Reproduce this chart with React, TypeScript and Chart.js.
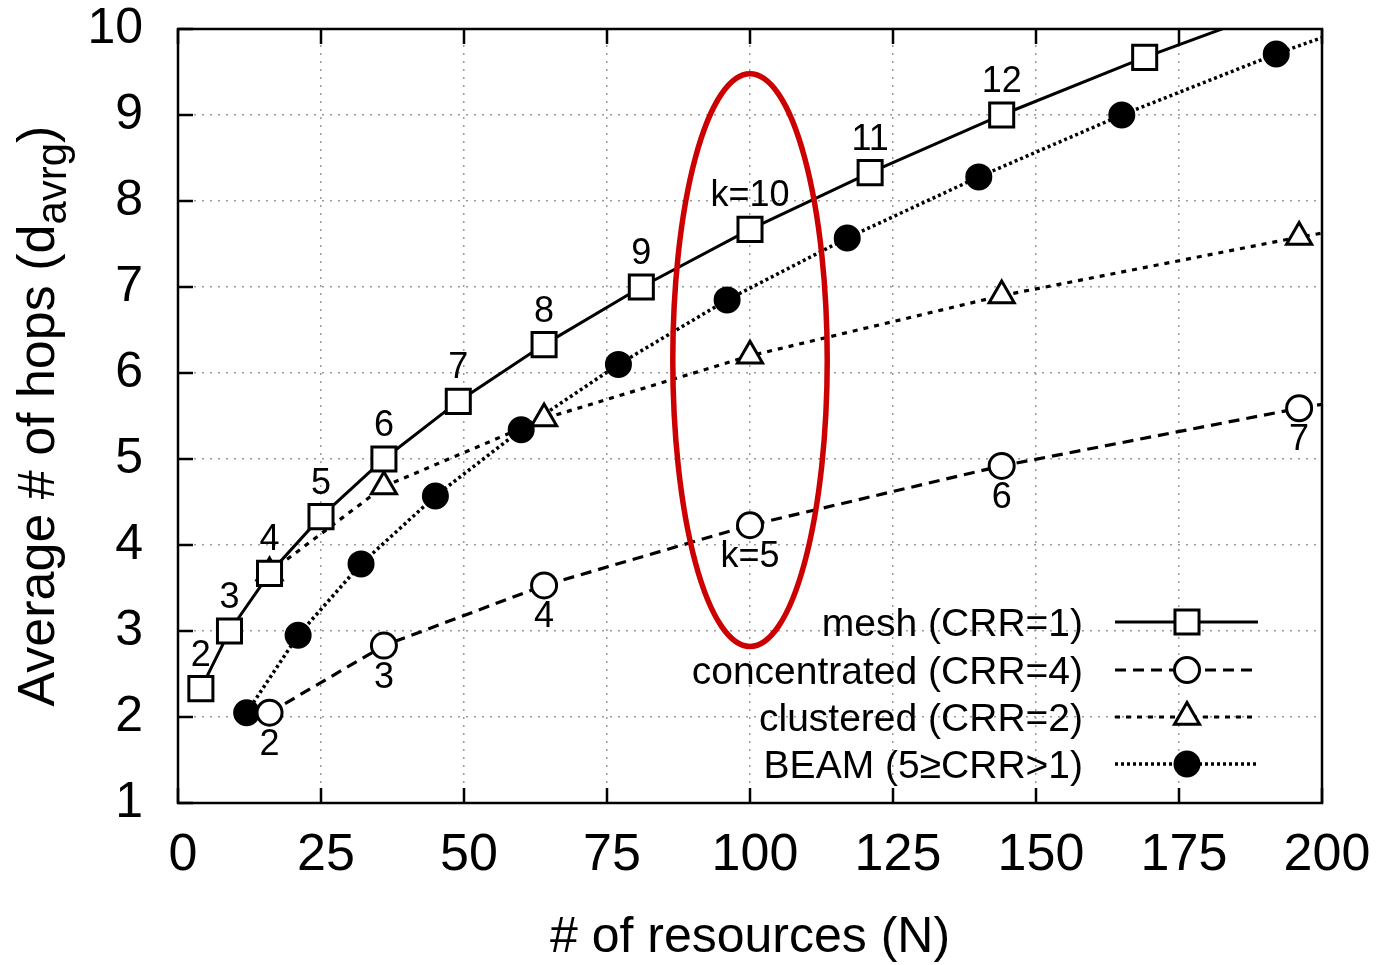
import React, { useEffect, useRef } from 'react';
import { Chart, registerables } from 'chart.js';

Chart.register(...registerables);

// ---- data ----
const meshN = [4, 9, 16, 25, 36, 49, 64, 81, 100, 121, 144, 169, 196];
const meshHops = [2.33, 3.0, 3.67, 4.33, 5.0, 5.67, 6.33, 7.0, 7.67, 8.33, 9.0, 9.67, 10.33];
const meshLabels = ['2', '3', '4', '5', '6', '7', '8', '9', 'k=10', '11', '12', '', ''];

const concN = [16, 36, 64, 100, 144, 196, 256];
const concHops = [2.05, 2.83, 3.53, 4.23, 4.92, 5.59, 6.28];
const concLabels = ['2', '3', '4', 'k=5', '6', '7', ''];

const clusN = [16, 36, 64, 100, 144, 196, 256];
const clusHops = [3.68, 4.68, 5.47, 6.2, 6.9, 7.58, 8.27];

const beamN = [12, 21, 32, 45, 60, 77, 96, 117, 140, 165, 192, 221];
const beamHops = [2.05, 2.95, 3.78, 4.57, 5.34, 6.1, 6.85, 7.57, 8.28, 9.0, 9.71, 10.4];

const seriesNames = ['mesh (CRR=1)', 'concentrated (CRR=4)', 'clustered (CRR=2)', 'BEAM (5\u2265CRR>1)'];
const xTickValues = [0, 25, 50, 75, 100, 125, 150, 175, 200];
const yTickValues = [1, 2, 3, 4, 5, 6, 7, 8, 9, 10];
const xTitle = '# of resources (N)';
const yTitleMain = 'Average # of hops (d';
const yTitleSub = 'avrg';
const yTitleEnd = ')';

// highlight ellipse (data units)
const ellipseCenter = { x: 100, y: 6.15 };
const ellipseHalf = { x: 13.5, y: 3.33 };

const FONT = '"Liberation Sans", Arial, Helvetica, sans-serif';

const pts = (xs: number[], ys: number[]) => xs.map((x, i) => ({ x, y: ys[i] }));

const styles = [
  { dash: [] as number[], width: 3, point: 'rect', radius: 17, fill: '#fff' },
  { dash: [11, 7], width: 3.2, point: 'circle', radius: 12.5, fill: '#fff' },
  { dash: [5, 6], width: 3.2, point: 'triangle', radius: 14.5, fill: '#fff' },
  { dash: [3, 3], width: 3.5, point: 'circle', radius: 12, fill: '#000' },
];

function drawMarker(ctx: CanvasRenderingContext2D, kind: string, x: number, y: number, r: number, fill: string) {
  ctx.save();
  ctx.setLineDash([]);
  ctx.lineWidth = 3;
  ctx.strokeStyle = '#000';
  ctx.fillStyle = fill;
  ctx.beginPath();
  if (kind === 'rect') {
    const s = r * Math.SQRT1_2;
    ctx.rect(x - s, y - s, 2 * s, 2 * s);
  } else if (kind === 'triangle') {
    ctx.moveTo(x, y - r);
    ctx.lineTo(x + 0.866 * r, y + 0.5 * r);
    ctx.lineTo(x - 0.866 * r, y + 0.5 * r);
    ctx.closePath();
  } else {
    ctx.arc(x, y, r, 0, Math.PI * 2);
  }
  ctx.fill();
  ctx.stroke();
  ctx.restore();
}

const decorPlugin = {
  id: 'decor',
  afterDatasetsDraw(chart: any) {
    const { ctx, chartArea, scales } = chart;
    const xs = scales.x;
    const ys = scales.y;
    // point labels
    ctx.save();
    ctx.fillStyle = '#000';
    ctx.font = `36px ${FONT}`;
    ctx.textAlign = 'center';
    ctx.textBaseline = 'middle';
    const m0 = chart.getDatasetMeta(0);
    m0.data.forEach((p: any, i: number) => {
      if (meshLabels[i]) ctx.fillText(meshLabels[i], p.x, p.y - 33);
    });
    const m1 = chart.getDatasetMeta(1);
    m1.data.forEach((p: any, i: number) => {
      if (concLabels[i]) ctx.fillText(concLabels[i], p.x, p.y + 32);
    });
    ctx.restore();

    // red ellipse
    ctx.save();
    const cx = xs.getPixelForValue(ellipseCenter.x);
    const cy = ys.getPixelForValue(ellipseCenter.y);
    const rx = Math.abs(xs.getPixelForValue(ellipseCenter.x + ellipseHalf.x) - cx);
    const ry = Math.abs(ys.getPixelForValue(ellipseCenter.y + ellipseHalf.y) - cy);
    ctx.strokeStyle = '#cc0000';
    ctx.lineWidth = 5.5;
    ctx.beginPath();
    ctx.ellipse(cx, cy, rx, ry, 0, 0, Math.PI * 2);
    ctx.stroke();
    ctx.restore();

    // legend
    ctx.save();
    const rowY = [622, 670, 717, 764];
    ctx.font = `39px ${FONT}`;
    ctx.textAlign = 'right';
    ctx.textBaseline = 'middle';
    seriesNames.forEach((name, i) => {
      const y = rowY[i];
      ctx.fillStyle = '#000';
      ctx.fillText(name, 1083, y + 3);
      const st = styles[i];
      ctx.strokeStyle = '#000';
      ctx.lineWidth = st.width;
      ctx.setLineDash(st.dash);
      ctx.beginPath();
      ctx.moveTo(1115, y);
      ctx.lineTo(1258, y);
      ctx.stroke();
      ctx.setLineDash([]);
      drawMarker(ctx, st.point, 1187, y, st.radius, st.fill);
    });
    ctx.restore();

    // frame and inward ticks
    ctx.save();
    ctx.strokeStyle = '#000';
    ctx.lineWidth = 2.5;
    ctx.setLineDash([]);
    const { left, right, top, bottom } = chartArea;
    ctx.strokeRect(left, top, right - left, bottom - top);
    ctx.beginPath();
    xTickValues.forEach((v) => {
      const px = xs.getPixelForValue(v);
      ctx.moveTo(px, bottom);
      ctx.lineTo(px, bottom - 15);
      ctx.moveTo(px, top);
      ctx.lineTo(px, top + 15);
    });
    yTickValues.forEach((v) => {
      const py = ys.getPixelForValue(v);
      ctx.moveTo(left, py);
      ctx.lineTo(left + 15, py);
    });
    ctx.stroke();
    ctx.restore();
  },
  afterDraw(chart: any) {
    const { ctx, chartArea } = chart;
    ctx.save();
    ctx.fillStyle = '#000';
    ctx.textBaseline = 'alphabetic';
    const mainFont = `52px ${FONT}`;
    const subFont = `42px ${FONT}`;
    ctx.font = mainFont;
    const w1 = ctx.measureText(yTitleMain).width;
    const w3 = ctx.measureText(yTitleEnd).width;
    ctx.font = subFont;
    const w2 = ctx.measureText(yTitleSub).width;
    const total = w1 + w2 + w3;
    const cy = (chartArea.top + chartArea.bottom) / 2;
    ctx.translate(54, cy);
    ctx.rotate(-Math.PI / 2);
    ctx.textAlign = 'left';
    let x = -total / 2;
    ctx.font = mainFont;
    ctx.fillText(yTitleMain, x, 0);
    x += w1;
    ctx.font = subFont;
    ctx.fillText(yTitleSub, x, 12);
    x += w2;
    ctx.font = mainFont;
    ctx.fillText(yTitleEnd, x, 0);
    ctx.restore();
  },
};

export default function App() {
  const ref = useRef<HTMLCanvasElement | null>(null);
  useEffect(() => {
    if (!ref.current) return;
    const mk = (label: string, data: any, i: number) => ({
      label,
      data,
      borderColor: '#000',
      borderWidth: styles[i].width,
      borderDash: styles[i].dash,
      pointStyle: styles[i].point,
      pointRadius: styles[i].radius,
      pointBackgroundColor: styles[i].fill,
      pointBorderColor: '#000',
      pointBorderWidth: 3,
      pointHoverRadius: styles[i].radius,
      fill: false,
      tension: 0,
      clip: 0,
    });
    const chart = new Chart(ref.current, {
      type: 'line',
      data: {
        datasets: [
          mk(seriesNames[0], pts(meshN, meshHops), 0),
          mk(seriesNames[1], pts(concN, concHops), 1),
          mk(seriesNames[2], pts(clusN, clusHops), 2),
          mk(seriesNames[3], pts(beamN, beamHops), 3),
        ] as any,
      },
      options: {
        responsive: false,
        animation: false,
        events: [],
        layout: { padding: { left: 0, top: 29, right: 58, bottom: 0 } },
        plugins: { legend: { display: false }, tooltip: { enabled: false } },
        scales: {
          x: {
            type: 'linear',
            min: 0,
            max: 200,
            afterBuildTicks: (s: any) => {
              s.ticks = xTickValues.map((v) => ({ value: v }));
            },
            afterFit: (s: any) => {
              s.height = 162;
              s.paddingLeft = 0;
              s.paddingRight = 0;
            },
            grid: { color: '#9a9a9a', lineWidth: 1.5, drawTicks: false },
            border: { display: false, dash: [2, 6] },
            ticks: {
              color: '#000',
              font: { family: FONT, size: 52, lineHeight: 1 },
              padding: 27,
              labelOffset: 5,
              maxRotation: 0,
              autoSkip: false,
            },
            title: {
              display: true,
              text: xTitle,
              color: '#000',
              font: { family: FONT, size: 50, lineHeight: 1.2 },
              padding: { top: 0, bottom: -3 },
            },
          },
          y: {
            type: 'linear',
            min: 1,
            max: 10,
            afterBuildTicks: (s: any) => {
              s.ticks = yTickValues.map((v) => ({ value: v }));
            },
            afterFit: (s: any) => {
              s.width = 178;
              s.paddingTop = 0;
              s.paddingBottom = 0;
            },
            grid: { color: '#9a9a9a', lineWidth: 1.5, drawTicks: false },
            border: { display: false, dash: [2, 6] },
            ticks: {
              color: '#000',
              font: { family: FONT, size: 50, lineHeight: 1 },
              padding: 35,
              autoSkip: false,
            },
          },
        },
      },
      plugins: [decorPlugin],
    } as any);
    return () => chart.destroy();
  }, []);
  return (
    <div style={{ position: 'absolute', left: 0, top: 0, width: 1380, height: 965, background: '#fff' }}>
      <canvas ref={ref} width={1380} height={965} style={{ display: 'block' }} />
    </div>
  );
}
